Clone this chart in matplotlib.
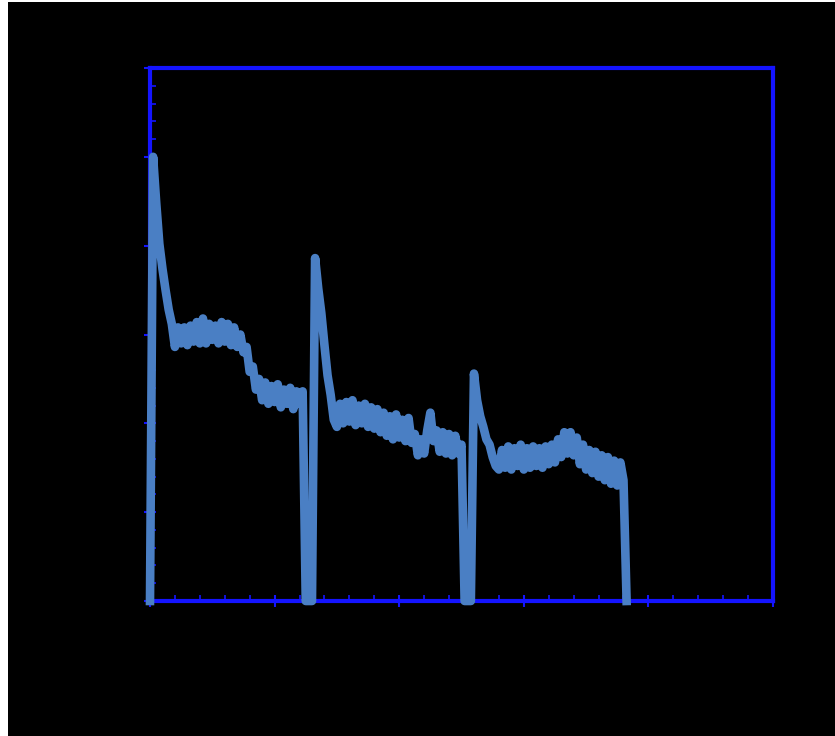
import numpy as np
import matplotlib.pyplot as plt
from matplotlib.patches import Rectangle
from matplotlib.ticker import MultipleLocator

# recorded trace, one sample every 0.25 s
signal = [
    0.0, 25.0, 22.4, 20.1, 18.7, 17.5, 16.4, 15.6, 14.3, 15.4,
    # first plateau
    14.5, 15.4, 14.4, 15.5, 14.6, 15.7, 14.5, 15.9, 14.5, 15.6,
    14.7, 15.5, 14.5, 15.7, 14.6, 15.6, 14.4, 15.4, 14.3,
    # step down
    15.0, 14.0, 14.3, 12.9, 13.2, 11.9, 12.5,
    # second plateau
    11.3, 12.3, 11.1, 12.1, 11.2, 12.2, 10.9, 11.9, 11.1, 12.0,
    10.8, 11.8, 11.1, 11.8,
    # first reset
    0.0, 0.0, 0.0,
    19.3, 17.6, 16.2, 14.4, 12.7, 11.6, 10.2, 9.8,
    11.1, 10.0, 11.2, 10.1, 11.3, 9.9, 11.0, 10.0, 11.1, 9.8,
    10.9, 9.7, 10.8,
    9.5, 10.6, 9.3, 10.4, 9.1, 10.5, 9.2, 10.2, 9.0, 10.3, 8.9,
    9.4, 8.2, 9.1, 8.3,
    9.6, 10.6, 9.0,
    9.6, 8.4, 9.5, 8.3, 9.4, 8.2, 9.3, 8.3, 8.8,
    # second reset
    0.0, 0.0, 0.0,
    12.8, 11.3, 10.4, 9.8, 9.1, 8.8, 8.1, 7.6, 7.4,
    8.5, 7.5, 8.7, 7.4, 8.6, 7.6, 8.8, 7.4, 8.6, 7.5,
    8.7, 7.6, 8.6, 7.5, 8.7, 7.7, 8.8, 7.8,
    9.1, 8.1, 9.5, 8.3, 9.5, 8.2, 9.2,
    7.7, 8.8, 7.4, 8.5, 7.2, 8.4, 7.0, 8.2, 6.8, 8.1,
    6.6, 7.9, 6.5, 7.8, 6.8,
    0.0,
]
t = np.arange(len(signal)) * 0.25

axis_blue = '#1414ff'
trace_blue = '#4a7fc4'

fig = plt.figure(figsize=(8.35, 7.36), dpi=100)
fig.patch.set_facecolor('white')
fig.add_artist(Rectangle((8 / 835, 0), 1, 1 - 2 / 736, transform=fig.transFigure,
                         facecolor='black', edgecolor='none', zorder=0))

ax = fig.add_axes([150 / 835, 1 - 601 / 736, 623 / 835, 533 / 736])
ax.set_facecolor('black')

ax.plot(t, signal, color=trace_blue, linewidth=6.2, solid_joinstyle='round',
        clip_on=False, zorder=4)

ax.set_xlim(0, 50)
ax.set_ylim(0, 30)
ax.xaxis.set_major_locator(MultipleLocator(10))
ax.xaxis.set_minor_locator(MultipleLocator(2))
ax.yaxis.set_major_locator(MultipleLocator(5))
ax.yaxis.set_minor_locator(MultipleLocator(1))

for side in ax.spines.values():
    side.set_color(axis_blue)
    side.set_linewidth(3)

ax.tick_params(which='major', direction='inout', length=9, width=1.5,
               color=axis_blue, labelcolor='black', labelsize=14)
ax.tick_params(which='minor', direction='in', length=4, width=1.2,
               color=axis_blue)

plt.savefig('out.png', dpi=100, facecolor=fig.get_facecolor())
